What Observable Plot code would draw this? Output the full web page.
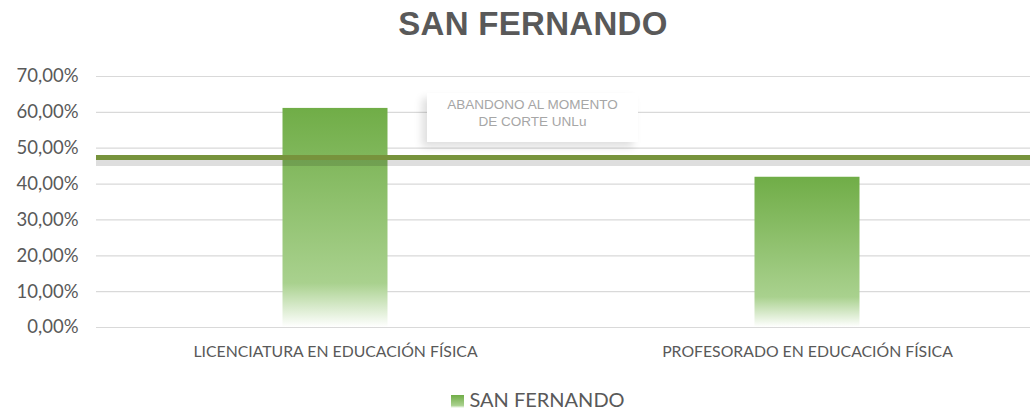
<!DOCTYPE html>
<html>
<head>
<meta charset="utf-8">
<script src="https://cdn.jsdelivr.net/npm/d3@7"></script>
<script src="https://cdn.jsdelivr.net/npm/@observablehq/plot@0.6"></script>
<style>
  html, body { margin: 0; padding: 0; background: #fff; }
  #wrap { position: relative; width: 1030px; height: 410px; overflow: hidden; font-family: Lato, "Open Sans", sans-serif; }
  #title { position: absolute; left: 0; width: 1066px; top: 5px; text-align: center; font-family: "Liberation Sans", Arial, sans-serif; font-weight: bold; font-size: 33px; color: #595959; letter-spacing: 0.3px; }
  #chart { position: absolute; left: 0; top: 56px; }
  #note { position: absolute; left: 427px; top: 93px; width: 211px; height: 49px; background: #fff; box-shadow: -5px 5px 8px rgba(0,0,0,0.13); text-align: center; font-family: "Liberation Sans", Arial, sans-serif; font-size: 13.5px; line-height: 17px; color: #a6a6a6; padding-top: 3px; box-sizing: border-box; }
  #legend { position: absolute; left: 0; width: 1076px; top: 387px; text-align: center; font-size: 20px; color: #595959; }
  #legend .sw { display: inline-block; width: 13px; height: 13px; margin-right: 5px; vertical-align: -1px; background: linear-gradient(#70ad47, #a9d18e 80%, #ffffff); }
</style>
</head>
<body>
<div id="wrap">
  <div id="title"></div>
  <div id="chart"></div>
  <div id="note"></div>
  <div id="legend"></div>
</div>
<script>
const chartTitle = "SAN FERNANDO";
const seriesName = "SAN FERNANDO";
const categories = ["LICENCIATURA EN EDUCACIÓN FÍSICA", "PROFESORADO EN EDUCACIÓN FÍSICA"];
const values = [0.611, 0.419];
const referenceValue = [0.474];
const referenceLabel = ["ABANDONO AL MOMENTO", "DE CORTE UNLu"];
const yTicks = [0, 0.1, 0.2, 0.3, 0.4, 0.5, 0.6, 0.7];

document.getElementById("title").textContent = chartTitle;
document.getElementById("note").innerHTML = referenceLabel.join("<br>");
document.getElementById("legend").innerHTML = '<span class="sw"></span>' + seriesName;

const data = categories.map((c, i) => ({category: c, value: values[i]}));
const fmt = d => (d * 100).toFixed(2).replace(".", ",") + "%";

const chart = Plot.plot({
  width: 1030,
  height: 335,
  marginLeft: 96,
  marginRight: 0,
  marginTop: 20,
  marginBottom: 64,
  style: {fontFamily: "Lato, 'Open Sans', sans-serif", color: "#595959", background: "transparent"},
  x: {domain: categories, range: [98.5, 1042.5], padding: 0, label: null},
  y: {domain: [0, 0.7], label: null},
  marks: [
    () => {
      const ns = "http://www.w3.org/2000/svg";
      const defs = document.createElementNS(ns, "defs");
      defs.innerHTML = '<linearGradient id="barGrad" x1="0" y1="0" x2="0" y2="1">' +
        '<stop offset="0" stop-color="#70ad47"/>' +
        '<stop offset="0.8" stop-color="#a9d18e"/>' +
        '<stop offset="1" stop-color="#ffffff"/></linearGradient>';
      return defs;
    },
    Plot.ruleY(yTicks, {y: d => d, stroke: "#d9d9d9", strokeWidth: 1.2}),
    Plot.barY(data, {x: "category", y: "value", fill: "url(#barGrad)", insetLeft: 183.5, insetRight: 183.5}),
    Plot.ruleY(referenceValue, {y: d => d, stroke: "#000", strokeOpacity: 0.13, strokeWidth: 7, dy: 5}),
    Plot.ruleY(referenceValue, {y: d => d, stroke: "#77933c", strokeWidth: 5}),
    Plot.axisY({ticks: yTicks, tickFormat: fmt, tickSize: 0, tickPadding: 18, fontSize: 18.5, fill: "#595959"}),
    Plot.axisX({tickSize: 0, tickPadding: 18, fontSize: 15.8, fill: "#595959", label: null})
  ]
});
document.getElementById("chart").appendChild(chart);
</script>
</body>
</html>
